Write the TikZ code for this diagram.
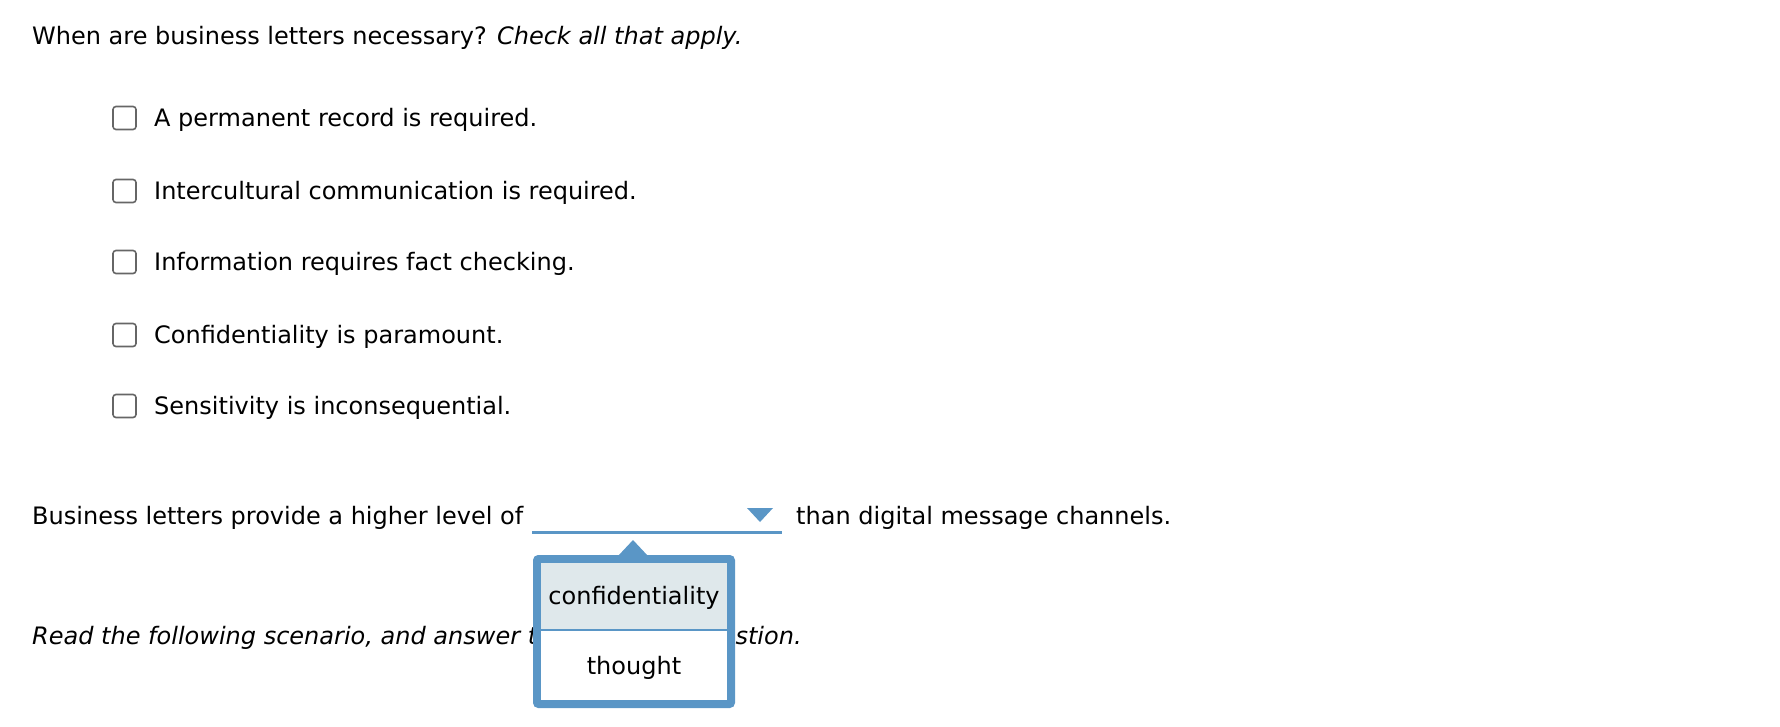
\documentclass[tikz,border=0pt]{standalone}
\usepackage{fontspec}
\setmainfont{DejaVu Sans}
\begin{document}
\begin{tikzpicture}[x=1pt,y=-1pt,
  txt/.style={anchor=west,inner sep=0pt,font=\fontsize{24}{28}\selectfont},
  cbox/.style={draw=black!60,line width=1.6pt,rounded corners=3pt,minimum width=23pt,minimum height=23pt,inner sep=0pt}]
\definecolor{myblue}{HTML}{5A96C6}
\definecolor{selbg}{HTML}{DFE8EB}
\useasboundingbox (0,0) rectangle (1780,726);
\node[txt] (q) at (32,38) {When are business letters necessary? \textit{Check all that apply.}};
\foreach \y/\t [count=\i] in {118/A permanent record is required.,191/Intercultural communication is required.,262/Information requires fact checking.,335/Confidentiality is paramount.,406/Sensitivity is inconsequential.}{
  \node[cbox] (c\i) at (124.5,\y) {};
  \node[txt] (t\i) at (154,\y+2) {\t};
}
\node[txt] (s1) at (32,518) {Business letters provide a higher level of};
\node[txt] (s2) at (796,518) {than digital message channels.};
\coordinate (u1) at (532,532); \coordinate (u2) at (782,532);
\draw[myblue,line width=3pt] (u1) -- (u2);
\fill[myblue] (747,508) -- (773,508) -- (760,522) -- cycle;
\node[txt] (r1) at (32,638) {\textit{Read the following scenario, and answer the following question.}};
% popup
\fill[myblue] (618,556) -- (633,540) -- (648,556) -- cycle;
\fill[myblue,rounded corners=5pt] (533,555) rectangle (735,708);
\node[fill=white,minimum width=186pt,minimum height=137pt,anchor=north west,inner sep=0pt] (pop) at (541,563) {};
\fill[selbg] (541,563) rectangle (727,629);
\draw[myblue,line width=1.5pt] (541,630) -- (727,630);
\node[txt,anchor=center] (o1) at (634,598) {confidentiality};
\node[txt,anchor=center] (o2) at (634,668) {thought};
\end{tikzpicture}
\end{document}
